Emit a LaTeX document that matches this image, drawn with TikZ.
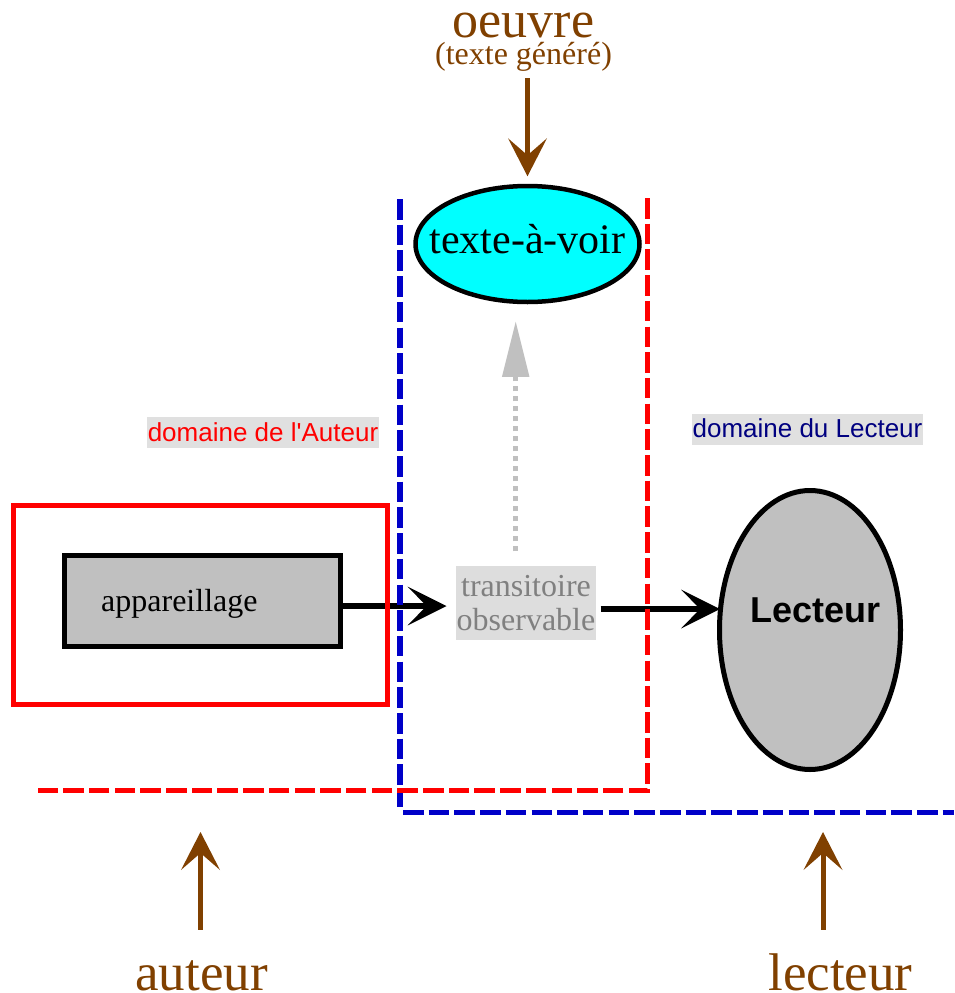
\documentclass[tikz,border=0pt]{standalone}
\usepackage{fontspec}
\setmainfont{Liberation Serif}
\newfontfamily\arialf{Liberation Sans}
\usetikzlibrary{arrows.meta,shapes.geometric}

\definecolor{brownc}{RGB}{128,64,0}
\definecolor{bluec}{RGB}{0,0,200}
\definecolor{navyc}{RGB}{0,0,128}
\definecolor{cyanc}{RGB}{0,255,255}
\definecolor{fillgray}{RGB}{192,192,192}
\definecolor{labelbg}{RGB}{224,224,224}
\definecolor{transbg}{RGB}{221,221,221}
\definecolor{transtext}{RGB}{128,128,128}

\begin{document}
\begin{tikzpicture}[x=1pt,y=-1pt,
  brownarrow/.style={draw=brownc, line width=5pt,
    -{Stealth[length=38pt,width=39pt,inset=17pt,line width=0pt]}},
  blackarrow/.style={draw=black, line width=6.5pt,
    -{Stealth[length=39pt,width=39pt,inset=19pt,line width=0pt]}},
  grayarrow/.style={draw=fillgray, line width=5pt, dash pattern=on 5pt off 5pt,
    -{Triangle[length=55pt,width=27.5pt,line width=0pt]}},
  bluedash/.style={draw=bluec, line width=5.5pt, dash pattern=on 20.5pt off 5.2pt},
  reddash/.style={draw=red, line width=5.5pt, dash pattern=on 20.5pt off 5.2pt},
  domlabel/.style={fill=labelbg, font=\arialf\fontsize{26}{26}\selectfont,
    inner xsep=1pt, inner ysep=0pt, anchor=base},
  bigbrown/.style={text=brownc, font=\fontsize{53}{53}\selectfont, anchor=base,
    inner sep=0pt, text height=36pt, text depth=0pt}
]
\useasboundingbox (0,0) rectangle (954,993);

% title of the work
\node[text=brownc, font=\fontsize{52}{52}\selectfont, anchor=base, inner sep=0pt]
  (oeuvre) at (523.5,37) {oeuvre};
\node[text=brownc, font=\fontsize{32}{32}\selectfont, anchor=base, inner sep=0pt]
  (sub) at (523.5,64) {(texte généré)};

% generated text
\node[ellipse, draw, line width=4.5pt, fill=cyanc, minimum width=224pt,
  minimum height=116pt, inner sep=0pt, text height=18pt, text depth=0pt,
  font=\fontsize{42}{42}\selectfont] (voir) at (527.5,244)
  {\makebox[0pt]{texte-à-voir}};

% author side
\node[draw, line width=5pt, fill=fillgray, minimum width=276pt,
  minimum height=91pt, inner sep=0pt] (app) at (202,600.5) {};
\node[anchor=base west, inner sep=0pt, font=\fontsize{32}{32}\selectfont]
  (applabel) at (101,611) {appareillage};

% observable transient
\node[fill=transbg, text=transtext, minimum width=140pt, minimum height=74pt,
  inner sep=0pt, align=center, font=\fontsize{32}{34}\selectfont]
  (trans) at (526,603) {transitoire\\observable};

% reader
\node[ellipse, draw, line width=5pt, fill=fillgray, minimum width=181pt,
  minimum height=279pt, inner sep=0pt] (lect) at (810,630) {};
\node[anchor=base, inner sep=0pt, font=\arialf\bfseries\fontsize{36}{36}\selectfont]
  (lectlabel) at (815.5,622) {Lecteur};

% domain captions
\node[domlabel, text=red, text height=24pt, text depth=7pt]
  (domA) at (263,441) {domaine de l\textquotesingle Auteur};
\node[domlabel, text=navyc, text height=23pt, text depth=8pt]
  (domL) at (807.5,437) {domaine du Lecteur};

% bottom captions
\node[bigbrown] (auteur) at (201.5,990) {auteur};
\node[bigbrown] (lecteur) at (840.5,990) {lecteur};
\coordinate (auteurtip) at (200.5,832);
\coordinate (lecteurtip) at (823,832);

% connectors
\draw[brownarrow, shorten <=7pt, shorten >=7.5pt] (voir.north |- sub.south) -- (voir.north);
\draw[brownarrow, shorten <=24pt] (auteurtip |- auteur.north) -- (auteurtip);
\draw[brownarrow, shorten <=24pt] (lecteurtip |- lecteur.north) -- (lecteurtip);
\draw[grayarrow, shorten <=14.5pt, shorten >=17.5pt]
  ([xshift=-10.3pt]trans.north) -- ([xshift=-10.3pt]trans.north |- voir.south);
\draw[blackarrow, shorten >=9.3pt]
  ([yshift=-5.5pt]app.east) -- ([yshift=-5.5pt]app.east -| trans.west);
\draw[blackarrow, shorten <=4.5pt, shorten >=-3pt]
  ([yshift=-6pt]trans.east) -- ([yshift=-6pt]trans.east -| lect.west);

% author frame
\node[draw=red, line width=5pt, minimum width=374pt, minimum height=199pt,
  inner sep=0pt] (authorbox) at (200.5,604.5) {};

% domain borders
\draw[bluedash] (400,199) -- (400,807);
\draw[bluedash] (403,812.3) -- (954,812.3);
\draw[reddash] (647.5,198) -- (647.5,790.7) -- (34,790.7);
\end{tikzpicture}
\end{document}
